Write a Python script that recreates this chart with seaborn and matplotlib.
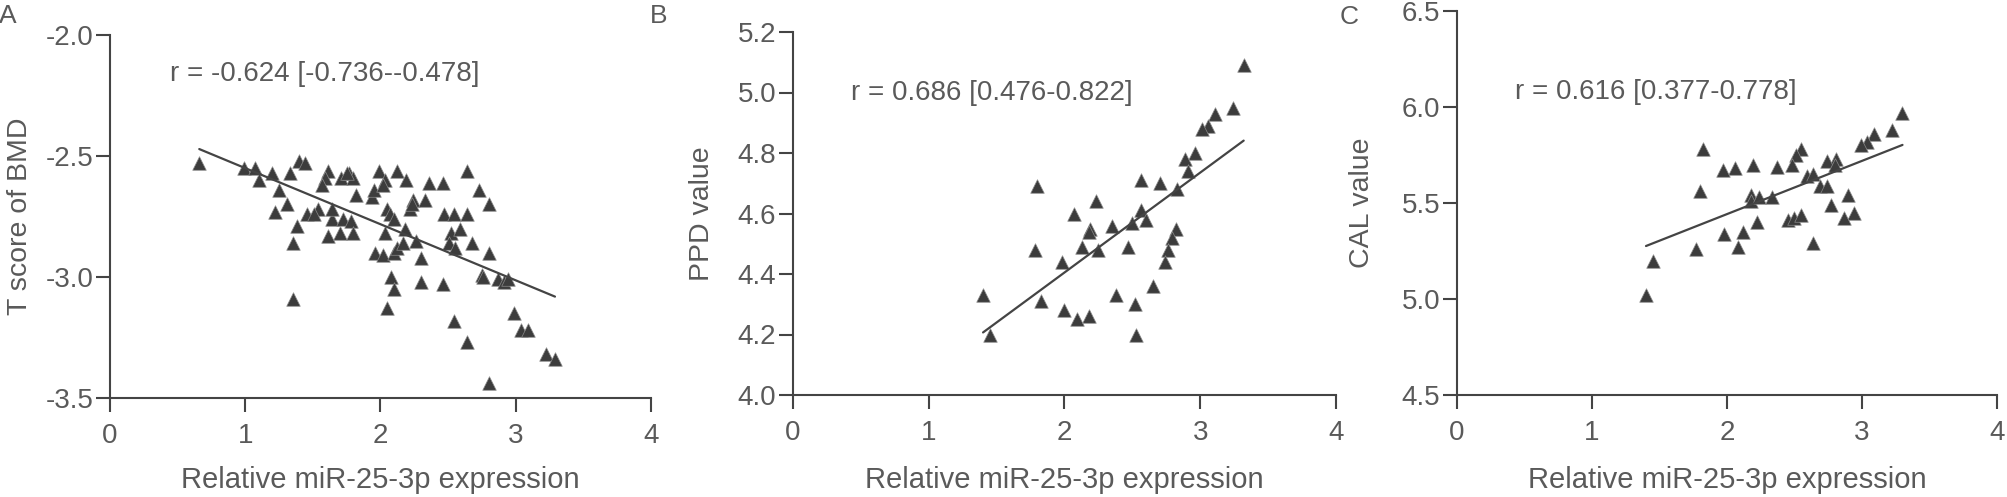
import matplotlib
matplotlib.use('Agg')
import matplotlib.pyplot as plt
import seaborn as sns
from matplotlib.ticker import FormatStrFormatter

sns.set_style('ticks')
plt.rcParams['font.family'] = ['Liberation Sans', 'DejaVu Sans']
plt.rcParams['axes.unicode_minus'] = False

# Panel A: miR-25-3p vs T score of BMD
a_x = [0.66, 0.99, 1.07, 1.10, 1.20, 1.33, 1.40, 1.44, 1.25, 1.31, 1.22, 1.38, 1.35, 1.35,
       1.46, 1.54, 1.51, 1.61, 1.59, 1.57, 1.64, 1.61, 1.70, 1.72, 1.71, 1.77, 1.80, 1.82,
       1.78, 1.80, 1.94, 1.95, 1.99, 2.03, 2.12, 2.19, 2.05, 2.07, 2.10, 2.03, 1.96, 2.02,
       2.10, 2.12, 2.17, 2.18, 2.22, 2.24, 2.23, 2.26, 2.30, 2.08, 2.10, 2.05, 2.30, 2.46,
       2.33, 2.36, 2.46, 2.47, 2.54, 2.64, 2.52, 2.59, 2.51, 2.55, 2.68, 2.64, 2.73, 2.80,
       2.80, 2.75, 2.76, 2.87, 2.91, 2.94, 2.54, 2.64, 2.80, 2.99, 3.04, 3.09, 3.22, 3.29,
       1.64, 2.02, 1.75]
a_y = [-2.53, -2.55, -2.55, -2.60, -2.57, -2.57, -2.52, -2.53, -2.64, -2.70, -2.73, -2.79, -2.86, -3.09,
       -2.74, -2.72, -2.74, -2.56, -2.59, -2.62, -2.76, -2.83, -2.82, -2.76, -2.59, -2.57, -2.59, -2.66,
       -2.77, -2.82, -2.67, -2.64, -2.56, -2.60, -2.56, -2.60, -2.72, -2.74, -2.76, -2.82, -2.90, -2.91,
       -2.90, -2.88, -2.86, -2.80, -2.72, -2.68, -2.70, -2.85, -2.92, -3.00, -3.05, -3.13, -3.02, -3.03,
       -2.68, -2.61, -2.61, -2.74, -2.74, -2.74, -2.82, -2.80, -2.86, -2.88, -2.86, -2.56, -2.64, -2.70,
       -2.90, -2.99, -3.00, -3.01, -3.02, -3.01, -3.18, -3.27, -3.44, -3.15, -3.22, -3.22, -3.32, -3.34,
       -2.72, -2.62, -2.57]

# Panel B: miR-25-3p vs PPD
b_x = [3.32, 3.24, 3.11, 3.06, 3.01, 2.96, 2.89, 2.91, 2.83, 2.70, 2.56, 1.80, 2.23, 2.07,
       2.19, 2.18, 2.35, 2.50, 2.56, 2.60, 2.13, 2.25, 2.47, 1.78, 1.98, 2.82, 2.79, 2.76,
       2.74, 2.65, 1.40, 1.45, 1.83, 2.00, 2.09, 2.18, 2.38, 2.52, 2.53]
b_y = [5.09, 4.95, 4.93, 4.89, 4.88, 4.80, 4.78, 4.74, 4.68, 4.70, 4.71, 4.69, 4.64, 4.60,
       4.55, 4.54, 4.56, 4.57, 4.61, 4.58, 4.49, 4.48, 4.49, 4.48, 4.44, 4.55, 4.52, 4.48,
       4.44, 4.36, 4.33, 4.20, 4.31, 4.28, 4.25, 4.26, 4.33, 4.30, 4.20]

# Panel C: miR-25-3p vs CAL
c_x = [3.30, 3.22, 3.09, 3.04, 2.99, 2.81, 2.74, 2.80, 2.55, 2.51, 2.48, 2.37, 2.19, 2.06,
       1.97, 1.82, 1.80, 2.59, 2.64, 2.69, 2.74, 2.90, 2.77, 2.94, 2.87, 2.18, 2.18, 2.24,
       2.33, 2.22, 2.45, 2.50, 2.55, 2.12, 1.98, 2.08, 1.77, 2.64, 1.45, 1.40]
c_y = [5.97, 5.88, 5.86, 5.82, 5.80, 5.73, 5.72, 5.70, 5.78, 5.75, 5.70, 5.69, 5.70, 5.68,
       5.67, 5.78, 5.56, 5.64, 5.65, 5.59, 5.59, 5.54, 5.49, 5.45, 5.42, 5.54, 5.51, 5.53,
       5.53, 5.40, 5.41, 5.42, 5.44, 5.35, 5.34, 5.27, 5.26, 5.29, 5.20, 5.02]

r_texts = ['r = -0.624 [-0.736--0.478]', 'r = 0.686 [0.476-0.822]', 'r = 0.616 [0.377-0.778]']
y_labels = ['T score of BMD', 'PPD value', 'CAL value']
panel_tags = ['A', 'B', 'C']
x_label = 'Relative miR-25-3p expression'

text_col = '#5a5a5a'
axis_col = '#444444'
mark_col = '#3c3c3c'

W, H = 2008, 497
fig = plt.figure(figsize=(W / 100, H / 100), dpi=100)

# axes boxes in pixels: left, right, top, bottom
boxes = [(110, 651, 35, 398), (793, 1336, 32, 395), (1457, 1997, 11, 395)]
ylims = [(-3.5, -2.0), (4.0, 5.2), (4.5, 6.5)]
ysteps = [0.5, 0.2, 0.5]
r_pos = [(0.44, -2.16), (0.43, 5.0), (0.43, 6.08)]
ylab_x = [-0.142, -0.143, -0.152]
xlab_y = [-0.187, -0.196, -0.185]
tag_pos = [(8, 16), (659, 16), (1349, 17)]
data = [(a_x, a_y), (b_x, b_y), (c_x, c_y)]

for i in range(3):
    l, r, t, b = boxes[i]
    ax = fig.add_axes([l / W, (H - b) / H, (r - l) / W, (b - t) / H])
    x, y = data[i]
    sns.regplot(x=x, y=y, ax=ax, ci=None, marker='^', truncate=True,
                scatter_kws=dict(s=95, color=mark_col, edgecolor='#8a8a8a', linewidths=0.5, alpha=1),
                line_kws=dict(color=axis_col, lw=1.6))
    lo, hi = ylims[i]
    ax.set_xlim(0, 4)
    ax.set_ylim(lo, hi)
    ax.set_xticks([0, 1, 2, 3, 4])
    n = int(round((hi - lo) / ysteps[i]))
    ax.set_yticks([lo + k * ysteps[i] for k in range(n + 1)])
    ax.yaxis.set_major_formatter(FormatStrFormatter('%.1f'))
    sns.despine(ax=ax)
    for s in ['left', 'bottom']:
        ax.spines[s].set_color(axis_col)
        ax.spines[s].set_linewidth(1.5)
    ax.tick_params(axis='both', direction='out', length=10, width=1.5, color=axis_col,
                   labelcolor=text_col, labelsize=20)
    ax.tick_params(axis='x', pad=8)
    ax.tick_params(axis='y', pad=2)
    ax.set_xlabel(x_label, fontsize=21, color=text_col)
    ax.set_ylabel(y_labels[i], fontsize=20.5, color=text_col)
    ax.xaxis.set_label_coords(0.5, xlab_y[i])
    ax.yaxis.set_label_coords(ylab_x[i], 0.5)
    ax.text(r_pos[i][0], r_pos[i][1], r_texts[i], fontsize=20, color=text_col,
            ha='left', va='center')
    fig.text(tag_pos[i][0] / W, 1 - tag_pos[i][1] / H, panel_tags[i], fontsize=19,
             color=text_col, ha='center', va='center')

fig.savefig('out.png', dpi=100, facecolor='white')
